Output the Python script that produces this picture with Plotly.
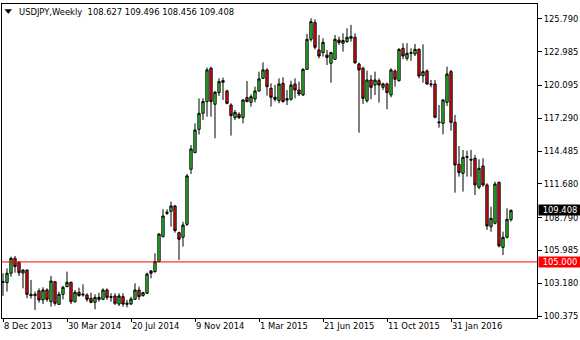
import pandas as pd
import plotly.graph_objects as go

# ---- data (USDJPY weekly) ----
start_week = "2013-12-08"
n_weeks = 128
weeks = pd.date_range(start_week, periods=n_weeks, freq="7D")

opens = [103.25,103.23,104.03,105.31,104.97,104.05,104.31,102.23,102.12,102.52,
         101.75,102.60,101.60,103.31,101.37,102.23,102.89,103.26,101.60,102.40,
         102.17,102.17,101.89,101.55,101.97,101.80,102.60,102.03,102.09,101.40,
         102.03,101.37,101.40,101.80,102.60,102.12,102.32,104.23,104.17,105.03,
         107.16,109.16,109.33,109.79,107.51,107.11,108.22,112.93,114.35,116.35,
         117.72,118.72,121.57,118.49,119.49,120.37,119.63,118.43,117.35,117.63,
         117.35,119.06,118.66,118.94,119.63,120.71,121.43,119.86,119.09,118.80,
         120.28,118.97,118.92,120.23,119.71,119.29,121.48,124.05,125.48,123.14,
         122.91,122.70,122.00,122.34,123.99,123.71,123.85,124.14,124.22,121.94,
         121.57,118.80,120.57,120.14,120.51,119.94,120.23,119.29,121.34,120.51,
         123.28,122.42,122.85,122.79,123.19,120.94,121.34,120.23,120.23,116.98,
         116.86,118.66,121.28,116.95,113.35,112.58,113.95,113.78,113.87,111.39,
         113.21,111.59,108.02,108.31,111.81,106.25,107.11,108.627]

highs = [104.03,104.45,105.45,105.51,105.03,104.40,104.35,103.46,102.46,102.74,
         102.83,102.74,103.80,103.35,102.46,102.95,104.17,103.31,102.60,102.80,
         103.09,102.32,102.37,102.23,102.37,102.74,102.74,102.32,102.32,102.32,
         102.32,101.75,102.03,103.17,102.89,102.46,104.08,104.31,105.74,107.45,
         109.50,109.50,110.16,109.87,107.59,108.44,112.53,115.00,116.86,118.99,
         119.00,121.63,121.71,119.63,120.71,120.77,119.74,118.57,118.00,117.80,
         118.94,120.48,119.34,120.00,121.28,122.08,121.57,120.28,120.14,120.71,
         120.80,119.71,120.51,120.71,120.43,121.57,124.51,125.85,125.76,124.42,
         124.14,123.14,122.99,124.42,124.28,124.56,124.99,125.28,124.56,122.05,
         121.71,121.37,121.00,121.28,120.71,120.34,120.34,121.57,121.48,123.28,
         123.71,123.71,123.28,123.65,123.28,123.62,121.48,120.57,120.57,118.43,
         118.92,121.71,121.43,117.58,114.92,114.58,114.52,114.58,114.15,113.78,
         113.87,111.73,109.73,111.87,111.87,107.59,109.59,109.496]

lows = [102.09,102.46,103.74,104.08,103.80,102.74,101.89,101.86,100.89,101.52,
        101.40,101.60,101.17,101.26,101.32,101.80,102.83,101.40,101.52,102.03,
        102.03,101.60,101.46,100.95,101.60,101.75,101.75,101.60,101.32,101.23,
        101.17,101.12,101.32,101.75,101.75,102.03,102.26,103.60,104.08,104.97,
        107.11,109.02,108.02,107.51,105.17,106.31,108.08,112.53,114.30,115.90,
        117.15,117.43,117.43,115.58,119.20,118.86,118.49,115.81,117.15,117.23,
        116.86,118.66,118.29,118.66,119.57,120.66,119.23,118.29,118.72,118.57,
        118.63,118.43,118.80,119.00,119.20,119.20,121.43,123.85,123.19,122.42,
        122.57,121.85,120.34,122.28,123.57,122.99,123.76,123.85,121.94,116.06,
        118.52,118.63,118.92,119.29,118.63,119.71,118.06,119.09,120.00,120.43,
        122.34,122.22,122.22,122.62,120.71,120.34,120.14,119.94,117.29,116.49,
        115.92,118.35,116.23,110.93,112.30,111.02,112.30,112.30,110.73,111.22,
        111.44,107.74,107.59,108.22,106.25,105.60,107.02,108.456]

closes = [103.32,104.03,105.31,104.60,104.08,104.30,102.23,102.12,102.23,101.75,
          102.60,101.80,103.37,101.46,102.23,102.83,103.26,101.60,102.40,102.12,
          102.23,101.80,101.55,101.97,101.80,102.60,101.97,101.97,101.46,102.09,
          101.40,101.46,101.83,102.60,102.03,102.37,103.97,104.03,105.03,107.39,
          108.93,109.25,109.79,107.68,106.94,108.16,112.36,114.67,116.29,117.72,
          118.72,121.43,118.72,119.52,120.43,120.51,118.57,117.52,117.80,117.35,
          118.86,118.72,119.14,119.63,120.66,121.43,120.00,119.09,118.92,120.23,
          118.72,118.86,120.14,119.71,119.37,121.48,124.05,125.56,123.37,122.62,
          123.79,122.50,122.91,124.05,123.77,123.94,124.22,124.28,122.05,121.43,
          119.00,120.57,119.94,120.57,120.14,120.23,119.49,121.43,120.63,123.19,
          122.62,122.85,122.91,123.19,120.91,121.28,120.23,120.17,117.38,116.92,
          118.86,121.08,116.95,113.30,112.64,113.95,114.01,113.72,111.59,113.01,
          111.59,108.08,108.73,111.67,106.37,107.11,108.65,109.408]

x_tick_dates = ["2013-12-08", "2014-03-30", "2014-07-20", "2014-11-09",
                "2015-03-01", "2015-06-21", "2015-10-11", "2016-01-31"]
x_tick_labels = ["8 Dec 2013", "30 Mar 2014", "20 Jul 2014", "9 Nov 2014",
                 "1 Mar 2015", "21 Jun 2015", "11 Oct 2015", "31 Jan 2016"]

y_tick_vals = [125.790, 122.985, 120.095, 117.290, 114.485,
               111.680, 108.790, 105.985, 103.180, 100.375]
y_tick_labels = ["125.790", "122.985", "120.095", "117.290", "114.485",
                 "111.680", "108.790", "105.985", "103.180", "100.375"]

symbol = "USDJPY,Weekly"
last_bar = ["108.627", "109.496", "108.456", "109.408"]
last_price = 109.408
level_price = 105.000
level_label = "105.000"

# ---- figure ----
W, H = 580, 340
ML, MR, MT, MB = 2, 43, 4, 22
plot_w = W - ML - MR
plot_h = H - MT - MB

def px_x(p):
    return (p - ML) / plot_w

def px_y(p):
    return (H - MB - p) / plot_h

FONT = "DejaVu Sans"
FS = 8.4
green = "#33dd33"
red = "#ff1010"

fig = go.Figure()
fig.add_trace(go.Candlestick(
    x=weeks, open=opens, high=highs, low=lows, close=closes,
    increasing=dict(line=dict(color="black", width=1), fillcolor=green),
    decreasing=dict(line=dict(color="black", width=1), fillcolor=red),
    whiskerwidth=0, hoverinfo="skip", showlegend=False,
))

week = pd.Timedelta(days=7)
x_range = [weeks[0] - 0.25 * week, weeks[0] + 133.5 * week]

fig.update_layout(
    width=W, height=H, autosize=False,
    margin=dict(l=ML, r=MR, t=MT, b=MB, pad=0),
    paper_bgcolor="white", plot_bgcolor="white",
    boxgap=0.18,
    font=dict(family=FONT, size=FS, color="black"),
    xaxis=dict(
        type="date", range=x_range, rangeslider=dict(visible=False),
        showgrid=False, zeroline=False,
        showline=True, linecolor="black", linewidth=1, mirror=True,
        ticks="outside", ticklen=3, tickcolor="black", tickwidth=1,
        tickvals=x_tick_dates, ticktext=x_tick_labels,
        ticklabelposition="outside right",
        tickfont=dict(family=FONT, size=FS, color="black"),
    ),
    yaxis=dict(
        side="right", range=[100.204, 127.07],
        showgrid=False, zeroline=False,
        showline=True, linecolor="black", linewidth=1, mirror=True,
        ticks="outside", ticklen=4, tickcolor="black", tickwidth=1,
        tickvals=y_tick_vals, ticktext=y_tick_labels,
        tickfont=dict(family=FONT, size=FS, color="black"),
    ),
)

# horizontal level line
fig.add_shape(type="line", xref="paper", yref="y", x0=0, x1=1,
              y0=level_price, y1=level_price,
              line=dict(color="#ff0000", width=1), layer="above")

# small triangle before the title
fig.add_shape(type="path", xref="paper", yref="paper",
              path=f"M {px_x(5)} {px_y(9.5)} L {px_x(11.5)} {px_y(9.5)} L {px_x(8.25)} {px_y(13.5)} Z",
              fillcolor="black", line=dict(color="black", width=0.5))

title_text = symbol + "\u00a0\u00a0" + " ".join(last_bar)
fig.add_annotation(xref="paper", yref="paper", x=px_x(17), y=px_y(11.5),
                   xanchor="left", yanchor="middle", showarrow=False,
                   text=title_text, font=dict(family=FONT, size=FS, color="black"))

# price labels on the right axis
fig.add_annotation(xref="paper", yref="y", x=1, y=last_price, xshift=1,
                   xanchor="left", yanchor="middle", showarrow=False,
                   text=last_bar[3], bgcolor="black", width=42, height=10,
                   borderpad=0, align="center",
                   font=dict(family=FONT, size=FS, color="white"))
fig.add_annotation(xref="paper", yref="y", x=1, y=level_price, xshift=1,
                   xanchor="left", yanchor="middle", showarrow=False,
                   text=level_label, bgcolor="#ff0000", width=42, height=10,
                   borderpad=0, align="center",
                   font=dict(family=FONT, size=FS, color="white"))

fig.write_html("out.html", config={"displayModeBar": False})
